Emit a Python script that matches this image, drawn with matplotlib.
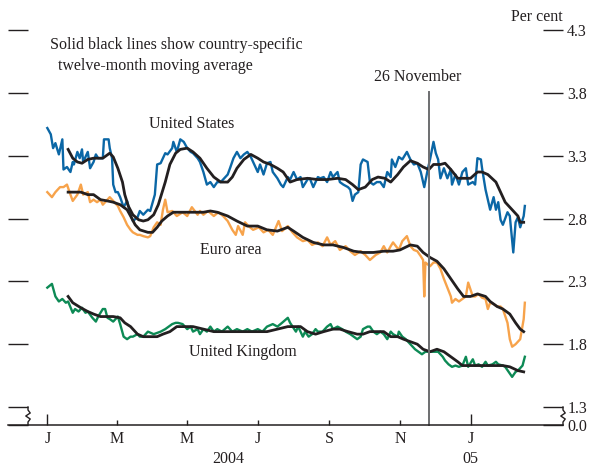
import numpy as np
import matplotlib.pyplot as plt

plt.rcParams['font.family'] = ['Liberation Serif', 'DejaVu Serif']
plt.rcParams['font.size'] = 11.5

start = np.datetime64('2004-01-01')

# United States: daily rate and twelve-month moving average (per cent)
us_days = [0, 3, 5, 7, 10, 13, 14, 17, 20, 22, 23, 26, 28, 30, 31, 35, 37, 40, 42, 44,
           48, 49, 53, 54, 56, 57, 59, 61, 63, 66, 69, 72, 74, 78, 80, 83, 87, 89, 93, 95,
           98, 102, 104, 108, 109, 112, 115, 118, 121, 124, 126, 130, 132, 135, 138, 141,
           144, 147, 150, 152, 156, 158, 161, 164, 167, 170, 173, 176, 178, 182, 184, 187,
           190, 193, 195, 199, 202, 204, 208, 210, 213, 216, 219, 221, 225, 227, 230, 234,
           236, 239, 242, 245, 247, 251, 253, 256, 260, 262, 264, 266, 269, 271, 273, 277,
           279, 282, 285, 288, 291, 294, 297, 298, 301, 304, 307, 311, 314, 317, 320, 323,
           326, 329, 331, 334, 336, 338, 340, 343, 346, 349, 350, 353, 356, 359, 362, 364,
           368, 370, 372, 375, 376, 379, 381, 383, 386, 388, 390, 392, 394, 398, 400, 403,
           405, 407, 409, 412, 413]
us_rate = [3.52, 3.47, 3.36, 3.40, 3.31, 3.43, 3.19, 3.21, 3.17, 3.25, 3.23, 3.33, 3.28,
           3.35, 3.25, 3.33, 3.20, 3.25, 3.31, 3.28, 3.28, 3.43, 3.43, 3.36, 3.28, 3.07,
           3.01, 3.01, 2.97, 2.89, 2.94, 2.83, 2.78, 2.81, 2.86, 2.83, 2.87, 2.86, 2.99,
           3.23, 3.24, 3.32, 3.31, 3.36, 3.41, 3.33, 3.43, 3.41, 3.36, 3.33, 3.32, 3.28,
           3.25, 3.17, 3.07, 3.09, 3.05, 3.09, 3.09, 3.11, 3.15, 3.20, 3.28, 3.33, 3.28,
           3.31, 3.33, 3.29, 3.25, 3.17, 3.23, 3.15, 3.24, 3.25, 3.17, 3.12, 3.07, 3.05,
           3.13, 3.11, 3.17, 3.11, 3.13, 3.05, 3.11, 3.12, 3.05, 3.13, 3.12, 3.13, 3.09,
           3.17, 3.13, 3.17, 3.09, 3.07, 3.05, 3.03, 2.94, 2.99, 3.01, 3.23, 3.27, 3.25,
           3.09, 3.07, 3.09, 3.09, 3.05, 3.17, 3.13, 3.27, 3.21, 3.29, 3.27, 3.33, 3.27,
           3.23, 3.24, 3.17, 3.05, 3.19, 3.27, 3.41, 3.32, 3.27, 3.12, 3.20, 3.12, 3.19,
           3.07, 3.15, 3.07, 3.17, 3.20, 3.07, 3.09, 3.07, 3.28, 3.27, 3.20, 3.03, 2.95,
           2.87, 2.97, 2.87, 2.93, 2.79, 2.75, 2.85, 2.82, 2.53, 2.77, 2.81, 2.73, 2.82,
           2.90]
us_ma_days = [18, 22, 26, 30, 35, 40, 48, 54, 57, 61, 65, 67, 70, 74, 79, 83, 87, 92, 96,
              98, 102, 106, 111, 115, 121, 126, 132, 138, 144, 150, 156, 160, 164, 170,
              176, 182, 187, 193, 199, 204, 210, 216, 225, 234, 242, 251, 258, 264, 269,
              275, 281, 286, 292, 297, 303, 308, 314, 320, 325, 330, 334, 340, 344, 349,
              355, 360, 366, 372, 376, 381, 388, 392, 396, 402, 407, 409, 412]
us_ma = [3.35, 3.28, 3.25, 3.24, 3.27, 3.28, 3.28, 3.32, 3.29, 3.20, 3.09, 2.99, 2.90,
         2.83, 2.79, 2.78, 2.79, 2.83, 2.91, 2.97, 3.09, 3.23, 3.32, 3.35, 3.36, 3.33,
         3.28, 3.20, 3.13, 3.09, 3.09, 3.13, 3.20, 3.27, 3.31, 3.28, 3.25, 3.23, 3.20,
         3.17, 3.09, 3.11, 3.12, 3.11, 3.11, 3.12, 3.11, 3.07, 3.03, 3.05, 3.11, 3.13,
         3.12, 3.09, 3.15, 3.21, 3.26, 3.24, 3.21, 3.19, 3.23, 3.23, 3.24, 3.19, 3.12,
         3.12, 3.12, 3.17, 3.17, 3.15, 3.09, 3.01, 2.93, 2.87, 2.82, 2.77, 2.77]

# Euro area
eu_days = [0, 4, 7, 11, 14, 17, 20, 22, 26, 29, 31, 35, 37, 40, 43, 46, 48, 52, 54, 57,
           61, 63, 66, 69, 72, 74, 78, 80, 83, 87, 89, 92, 95, 98, 100, 102, 104, 108, 112,
           117, 121, 125, 130, 132, 135, 139, 144, 148, 152, 156, 160, 163, 165, 169, 171,
           174, 178, 183, 187, 191, 195, 200, 203, 208, 212, 216, 221, 225, 229, 234, 238,
           242, 245, 249, 253, 258, 262, 266, 271, 275, 279, 284, 288, 291, 294, 297, 299,
           304, 307, 311, 314, 317, 320, 323, 325, 326, 327, 331, 334, 337, 340, 343, 346,
           349, 350, 353, 356, 359, 362, 364, 368, 370, 373, 376, 379, 381, 383, 386, 389,
           392, 394, 398, 400, 402, 405, 407, 409, 412, 413]
eu_rate = [3.01, 2.97, 3.01, 3.05, 3.05, 3.07, 2.99, 2.94, 2.99, 3.07, 2.99, 3.01, 2.93,
           2.95, 2.93, 2.95, 2.91, 2.95, 2.97, 2.94, 2.90, 2.86, 2.81, 2.75, 2.71, 2.69,
           2.67, 2.67, 2.66, 2.65, 2.66, 2.73, 2.77, 2.75, 2.87, 2.95, 2.85, 2.86, 2.82,
           2.85, 2.82, 2.89, 2.83, 2.86, 2.83, 2.86, 2.82, 2.85, 2.82, 2.78, 2.71, 2.67,
           2.74, 2.67, 2.77, 2.74, 2.71, 2.73, 2.69, 2.71, 2.67, 2.78, 2.70, 2.74, 2.69,
           2.65, 2.62, 2.63, 2.59, 2.61, 2.58, 2.65, 2.59, 2.62, 2.55, 2.58, 2.54, 2.51,
           2.54, 2.51, 2.47, 2.51, 2.53, 2.58, 2.53, 2.58, 2.61, 2.55, 2.62, 2.66, 2.58,
           2.55, 2.54, 2.50, 2.47, 2.18, 2.45, 2.42, 2.45, 2.45, 2.40, 2.32, 2.25, 2.18,
           2.13, 2.16, 2.14, 2.16, 2.18, 2.29, 2.18, 2.18, 2.20, 2.17, 2.16, 2.08, 2.13,
           2.12, 2.10, 2.10, 2.08, 1.97, 1.84, 1.78, 1.80, 1.82, 1.84, 2.00, 2.13]
eu_ma_days = [18, 22, 29, 35, 40, 46, 52, 57, 63, 69, 72, 76, 80, 87, 91, 95, 99, 104,
              109, 118, 126, 135, 141, 147, 156, 164, 173, 182, 190, 199, 208, 213, 221,
              230, 239, 247, 256, 265, 273, 282, 291, 299, 305, 314, 320, 325, 331, 337,
              343, 349, 355, 360, 366, 372, 379, 383, 389, 394, 400, 405, 409, 412]
eu_ma = [3.01, 3.01, 3.01, 2.99, 2.99, 2.95, 2.94, 2.93, 2.91, 2.87, 2.82, 2.75, 2.71,
         2.69, 2.69, 2.73, 2.78, 2.82, 2.85, 2.85, 2.85, 2.85, 2.86, 2.85, 2.82, 2.78,
         2.74, 2.74, 2.71, 2.70, 2.73, 2.70, 2.65, 2.61, 2.59, 2.59, 2.57, 2.54, 2.53,
         2.53, 2.54, 2.54, 2.55, 2.59, 2.58, 2.53, 2.49, 2.46, 2.40, 2.32, 2.24, 2.18,
         2.18, 2.20, 2.18, 2.14, 2.10, 2.08, 2.04, 1.97, 1.92, 1.90]

# United Kingdom
uk_days = [0, 4, 7, 10, 13, 16, 18, 22, 24, 27, 30, 33, 35, 39, 42, 44, 48, 50, 52, 54,
           57, 61, 63, 66, 69, 72, 74, 78, 80, 83, 87, 92, 98, 102, 105, 108, 111, 113, 117,
           121, 124, 126, 130, 132, 135, 138, 141, 144, 147, 151, 156, 160, 164, 169, 173,
           177, 182, 186, 190, 195, 199, 203, 208, 210, 215, 217, 221, 223, 226, 229, 232,
           234, 238, 242, 245, 247, 251, 255, 258, 262, 265, 268, 271, 273, 277, 279, 282,
           285, 288, 291, 294, 297, 299, 303, 304, 307, 310, 312, 316, 318, 321, 324, 327,
           330, 333, 336, 338, 342, 344, 347, 350, 353, 356, 359, 362, 364, 368, 370, 373,
           376, 379, 381, 385, 388, 390, 394, 396, 399, 402, 405, 407, 411, 413]
uk_rate = [2.25, 2.28, 2.18, 2.14, 2.16, 2.13, 2.14, 2.05, 2.08, 2.06, 2.09, 2.05, 2.06,
           2.01, 1.98, 2.02, 2.08, 2.08, 2.01, 2.00, 1.98, 2.02, 1.96, 1.86, 1.84, 1.86,
           1.86, 1.88, 1.86, 1.86, 1.90, 1.88, 1.90, 1.92, 1.94, 1.96, 1.97, 1.97, 1.96,
           1.92, 1.94, 1.90, 1.92, 1.88, 1.92, 1.90, 1.94, 1.90, 1.92, 1.90, 1.94, 1.90,
           1.92, 1.90, 1.92, 1.90, 1.92, 1.90, 1.94, 1.96, 1.94, 1.97, 2.01, 1.97, 1.90,
           1.94, 1.86, 1.90, 1.86, 1.88, 1.92, 1.90, 1.90, 1.94, 1.96, 1.92, 1.94, 1.92,
           1.90, 1.88, 1.86, 1.84, 1.86, 1.92, 1.94, 1.94, 1.90, 1.88, 1.90, 1.88, 1.84,
           1.90, 1.88, 1.86, 1.90, 1.86, 1.84, 1.82, 1.78, 1.76, 1.74, 1.72, 1.74, 1.74,
           1.74, 1.74, 1.74, 1.70, 1.67, 1.64, 1.62, 1.63, 1.62, 1.63, 1.70, 1.62, 1.68,
           1.63, 1.64, 1.62, 1.66, 1.63, 1.64, 1.66, 1.64, 1.63, 1.62, 1.58, 1.54, 1.58,
           1.59, 1.63, 1.70]
uk_ma_days = [18, 22, 29, 35, 40, 46, 52, 57, 63, 67, 72, 78, 83, 89, 95, 100, 106, 112,
              118, 126, 135, 144, 156, 167, 178, 190, 199, 208, 219, 225, 232, 239, 247,
              253, 260, 268, 273, 279, 285, 291, 297, 303, 308, 314, 320, 325, 331, 337,
              343, 349, 355, 359, 363, 372, 381, 389, 394, 400, 407, 412]
uk_ma = [2.18, 2.13, 2.09, 2.06, 2.04, 2.02, 2.02, 2.02, 2.01, 1.97, 1.94, 1.88, 1.86,
         1.86, 1.86, 1.88, 1.90, 1.94, 1.94, 1.94, 1.92, 1.90, 1.90, 1.90, 1.90, 1.90,
         1.92, 1.94, 1.94, 1.90, 1.88, 1.90, 1.92, 1.92, 1.90, 1.88, 1.88, 1.90, 1.90,
         1.90, 1.86, 1.86, 1.84, 1.82, 1.80, 1.76, 1.74, 1.76, 1.74, 1.70, 1.66, 1.63,
         1.63, 1.63, 1.63, 1.63, 1.63, 1.62, 1.59, 1.58]

y_ticks = [1.3, 1.8, 2.3, 2.8, 3.3, 3.8, 4.3]
x_tick_dates = ['2004-01-01', '2004-03-01', '2004-05-01', '2004-07-01',
                '2004-09-01', '2004-11-01', '2005-01-01']
x_tick_labels = ['J', 'M', 'M', 'J', 'S', 'N', 'J']
event_date = '2004-11-26'


def to_dates(days):
    return start + np.array(days, dtype='timedelta64[D]')


fig = plt.figure(figsize=(5.95, 4.66), dpi=100)
ax = fig.add_axes([8 / 595, 1 - 425 / 466, 555 / 595, 395 / 466])

ink = '#231f20'
blue = '#0b67a6'
orange = '#f7a34b'
green = '#0d8a55'

ax.plot(to_dates(us_days), us_rate, color=blue, lw=1.7)
ax.plot(to_dates(eu_days), eu_rate, color=orange, lw=1.7)
ax.plot(to_dates(uk_days), uk_rate, color=green, lw=1.7)
for d, v in [(us_ma_days, us_ma), (eu_ma_days, eu_ma), (uk_ma_days, uk_ma)]:
    ax.plot(to_dates(d), v, color=ink, lw=2.0, solid_joinstyle='round')

# y axis has a break between 0.0 and 1.3
y_bottom = 1.3 - 18 / 126
ax.set_ylim(y_bottom, 4.3)
ax.set_xlim(start - np.timedelta64(34, 'D'), start + np.timedelta64(446, 'D'))

ev = np.datetime64(event_date)
ax.plot([ev, ev], [y_bottom, 3.81], color='#6d6e70', lw=1.4, clip_on=False)
ax.text(ev - np.timedelta64(10, 'D'), 3.86, '26 November', ha='center', va='bottom',
        color=ink)

for s in ['left', 'right', 'top']:
    ax.spines[s].set_visible(False)
ax.spines['bottom'].set_color(ink)
ax.spines['bottom'].set_linewidth(1.1)

ax.set_yticks([y_bottom] + y_ticks)
ax.set_yticklabels(['0.0'] + ['%.1f' % t for t in y_ticks])
ax.tick_params(axis='y', direction='in', length=14.5, width=1.0, color=ink,
               left=True, right=True, labelleft=False, labelright=True,
               pad=3, labelcolor=ink)

# J ticks are longer than the other months
major = [np.datetime64(x_tick_dates[0]), np.datetime64(x_tick_dates[-1])]
minor = [np.datetime64(d) for d in x_tick_dates[1:-1]]
ax.set_xticks(major)
ax.set_xticklabels([x_tick_labels[0], x_tick_labels[-1]])
ax.set_xticks(minor, minor=True)
ax.set_xticklabels(x_tick_labels[1:-1], minor=True)
ax.tick_params(axis='x', which='major', direction='in', length=8, width=1.0,
               color=ink, pad=4, labelcolor=ink)
ax.tick_params(axis='x', which='minor', direction='in', length=3.5, width=1.0,
               color=ink, pad=4, labelcolor=ink)

# zigzag break marks at both ends of the axis
zz_y = np.linspace(0, 18 / 395, 7)
zz_dx = np.array([0, 0, 0.004, -0.004, 0.004, 0, 0])
for xb in [20 / 555, 1.0]:
    ax.plot(xb + zz_dx, zz_y, color=ink, lw=1.0, transform=ax.transAxes,
            clip_on=False)

ax.text(np.datetime64('2004-05-05'), 3.55, 'United States', ha='center', va='center',
        color=ink)
ax.text(np.datetime64('2004-06-08'), 2.55, 'Euro area', ha='center', va='center',
        color=ink)
ax.text(np.datetime64('2004-06-18'), 1.74, 'United Kingdom', ha='center', va='center',
        color=ink)

fig.text(50 / 595, 1 - 45 / 466, 'Solid black lines show country-specific',
         ha='left', va='center', color=ink)
fig.text(58 / 595, 1 - 66 / 466, 'twelve-month moving average',
         ha='left', va='center', color=ink)
fig.text(563 / 595, 1 - 17 / 466, 'Per cent', ha='right', va='center', color=ink)
fig.text(228 / 595, 1 - 459 / 466, '2004', ha='center', va='center', color=ink)
fig.text(470 / 595, 1 - 459 / 466, '05', ha='center', va='center', color=ink)

fig.savefig('out.png', dpi=100)
